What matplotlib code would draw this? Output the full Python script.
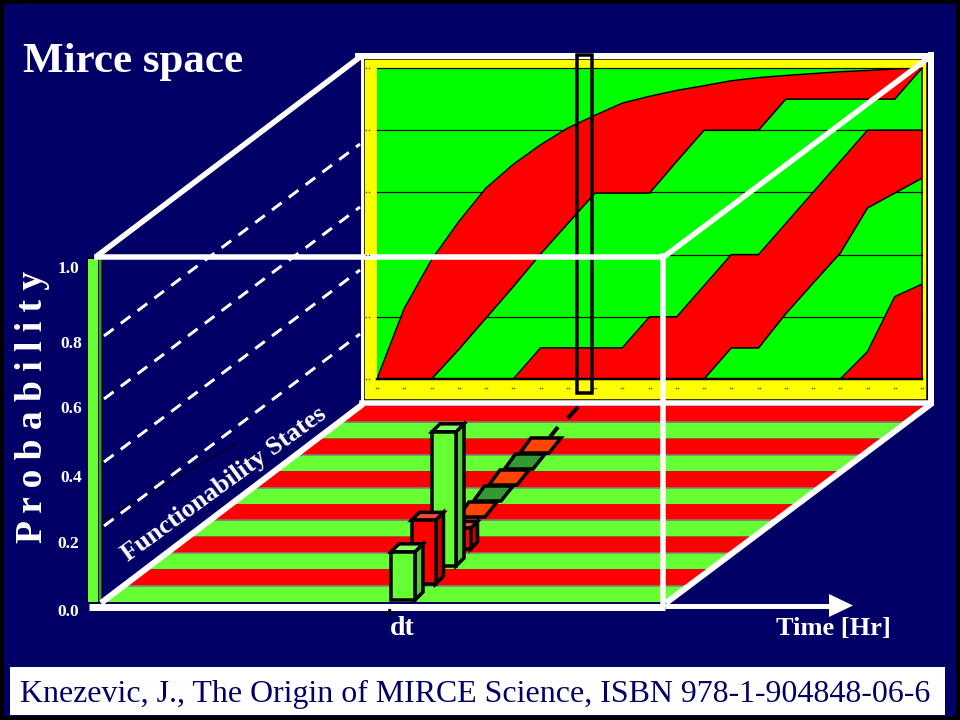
import numpy as np
import matplotlib
matplotlib.use('Agg')
import matplotlib.pyplot as plt
from matplotlib.patches import Polygon, Rectangle

## Data
time_steps = list(range(21))
edge_1 = [0, .227, .383, .506, .614, .69, .753, .807, .848, .887, .909, .928, .943, .959, .969, .976, .982, .988, .992, .997, 1.0]
edge_2 = [0, 0, 0, .095, .196, .297, .402, .5, .598, .598, .598, .7, .8, .8, .8, .9, .9, .9, .9, .9, 1.0]
edge_3 = [0, 0, 0, 0, 0, 0, .1, .1, .1, .1, .2, .2, .3, .4, .4, .5, .6, .7, .8, .8, .8]
edge_4 = [0, 0, 0, 0, 0, 0, 0, 0, 0, 0, 0, 0, 0, .1, .1, .21, .308, .405, .55, .598, .646]
edge_5 = [0, 0, 0, 0, 0, 0, 0, 0, 0, 0, 0, 0, 0, 0, 0, 0, 0, 0, .088, .265, .305]
grid_levels = [0.2, 0.4, 0.6, 0.8, 1.0]
prob_labels = ['0.0', '0.2', '0.4', '0.6', '0.8', '1.0']
floor_states = ['red', 'green'] * 6
bar_probs = [0.14, 0.185, 0.39, 0.06]
bar_states = ['green', 'red', 'green', 'red']
slice_states = ['red', 'green', 'red', 'green', 'red']

NAVY = '#000066'
GREEN = '#66ff33'
RED = '#ff0000'
PX = 0.72  # one pixel in points at dpi 100
SERIF = 'Liberation Serif'

fig = plt.figure(figsize=(9.6, 7.2), dpi=100, facecolor='black')
back = fig.add_axes([0, 0, 1, 1], zorder=0)
chart = fig.add_axes([377 / 960, 1 - 379 / 720, 545 / 960, 311 / 720], zorder=1)
top = fig.add_axes([0, 0, 1, 1], zorder=2)
for ax in (back, top):
    ax.set_xlim(0, 960)
    ax.set_ylim(720, 0)
    ax.axis('off')

# everything on the overlay is painted in the order it is added
layer = [1.0]


def next_z():
    layer[0] += 0.001
    return layer[0]


def box(ax, x0, y0, x1, y1, color, edge='none', lw=0):
    ax.add_patch(Rectangle((x0, y0), x1 - x0, y1 - y0, facecolor=color, edgecolor=edge,
                           linewidth=lw * PX, zorder=next_z()))


def poly(ax, pts, color, edge='none', lw=0):
    ax.add_patch(Polygon(pts, closed=True, facecolor=color, edgecolor=edge, linewidth=lw * PX,
                         joinstyle='miter', zorder=next_z()))


def line(ax, xs, ys, color='white', lw=5, cap='projecting'):
    ax.plot(xs, ys, color=color, linewidth=lw * PX, solid_capstyle=cap, zorder=next_z())


## Background
box(back, 4, 4, 956, 716, NAVY)
box(back, 364, 59, 927, 400, '#ffff00', edge='black', lw=1.5)

## The area chart on the back wall
chart.set_xlim(0, 20)
chart.set_ylim(0, 1)
chart.set_facecolor('#00ff00')
chart.set_xticks([])
chart.set_yticks([])
for name in ('left', 'top'):
    chart.spines[name].set_visible(False)
chart.spines['bottom'].set_linewidth(2.5 * PX)
chart.spines['right'].set_linewidth(1.5 * PX)
for lev in grid_levels:
    chart.axhline(lev, color='black', linewidth=1.2 * PX, zorder=1, clip_on=False)
chart.fill_between(time_steps, edge_2, edge_1, color=RED, linewidth=0, zorder=2)
chart.fill_between(time_steps, edge_4, edge_3, color=RED, linewidth=0, zorder=2)
chart.fill_between(time_steps, 0, edge_5, color=RED, linewidth=0, zorder=2)
for edge in (edge_1, edge_2, edge_3, edge_4, edge_5):
    e = np.array(edge)
    t = np.array(time_steps)
    keep = e > 0
    keep[:-1] |= e[1:] > 0
    chart.plot(t[keep], e[keep], color='black', linewidth=1.5 * PX, zorder=3)

# tiny unreadable tick labels of the original chart
for i in range(21):
    x = 377 + 27.25 * i
    top.plot([x - 1, x + 1], [388, 388], ls='none', marker='s', ms=1.0, mew=0, color='#555500')
for lev in [0] + grid_levels:
    y = 379 - 311 * lev
    top.plot([366, 369], [y, y], ls='none', marker='s', ms=1.0, mew=0, color='#555500')

## Floor stripes
stripe_h = 196 / len(floor_states)
slope = 262 / 199
for i, state in enumerate(floor_states):
    y0 = 406 + i * stripe_h
    y1 = y0 + stripe_h
    x0 = 100 + (602 - y0) * slope
    x1 = 100 + (602 - y1) * slope
    color = GREEN if state == 'green' else RED
    poly(top, [(x0, y0), (x0 + 565, y0), (x1 + 565, y1), (x1, y1)], color)
    if state == 'green':
        line(top, [x0, x0 + 565], [y0, y0], color='#808080', lw=1.5, cap='butt')

## Slice footprint on the floor
slice_top = 438
slice_h = 16.0
for i, state in enumerate(slice_states):
    y0 = slice_top + i * slice_h
    y1 = y0 + slice_h - 1
    x0 = 531 - i * 15.5
    x1 = 561 - i * 16
    color = '#ff4500' if state == 'red' else '#339933'
    poly(top, [(x0, y0), (x1, y0), (x1 - 12, y1), (x0 - 11, y1)], color, edge='black', lw=3.5)

line(top, [578, 568], [407, 418], color='black', lw=4, cap='butt')
line(top, [558, 550], [427, 437], color='black', lw=4, cap='butt')

## Bars standing on the floor, drawn back to front
bar_w = [24, 24, 24, 18]
bar_d = [8, 8, 8, 7]
bar_x = [391, 411.5, 432, 452.5]
bar_y = [600, 584, 566, 549]
for i in [3, 2, 1, 0]:
    h = bar_probs[i] * 344
    x0, y1, w, d = bar_x[i], bar_y[i], bar_w[i], bar_d[i]
    y0 = y1 - h
    if bar_states[i] == 'green':
        front, side, lid = GREEN, '#55cc33', '#88ff66'
    else:
        front, side, lid = RED, '#cc0000', '#ff4444'
    poly(top, [(x0 + w, y0), (x0 + w + d, y0 - d), (x0 + w + d, y1 - d), (x0 + w, y1)], side, edge='black', lw=3.5)
    poly(top, [(x0, y0), (x0 + d, y0 - d), (x0 + w + d, y0 - d), (x0 + w, y0)], lid, edge='black', lw=3.5)
    box(top, x0, y0, x0 + w, y1, front, edge='black', lw=3.5)

## Probability scale bar
poly(top, [(98, 258), (102, 256), (102, 600), (98, 602)], '#339933', edge='black', lw=1)
box(top, 87, 258, 98, 602, GREEN, edge='black', lw=1)

## Back wall edges, the selected slice goes over them
line(top, [358, 931], [55.5, 55.5], lw=6)
line(top, [361.5, 361.5], [55, 403], lw=3)
line(top, [931, 931], [55, 403], lw=6)
line(top, [362, 931], [403, 403], lw=5.5)
box(top, 576.5, 54.5, 591.5, 393, 'none', edge='black', lw=3.5)

## Dashed lines from the scale to the back wall
line(top, [103, 237], [520, 443], color='black', lw=1, cap='butt')
for y in [527, 463, 400, 337]:
    top.plot([104, 360], [y - 1, y - 1 - 256 * 0.75], color='white', linewidth=3 * PX,
             linestyle=(0, (12 / 3, 9 / 3)), dash_capstyle='butt', zorder=next_z())

## Front edges of the cube
line(top, [97, 663], [256.5, 256.5], lw=5.5)
line(top, [663, 663], [256, 604], lw=5.5)
line(top, [97, 360], [256, 57], lw=5.5, cap='round')
line(top, [665, 931], [256, 56], lw=5.5, cap='round')
line(top, [101, 363], [603, 404], lw=6, cap='butt')
line(top, [666, 931], [603, 404], lw=6, cap='butt')
line(top, [89, 665], [606.5, 606.5], lw=7, cap='butt')
line(top, [665, 832], [605.5, 605.5], lw=5, cap='butt')
poly(top, [(829, 594), (853, 605.5), (829, 617)], 'white')
line(top, [389.5, 390.5], [609, 616], color='black', lw=3, cap='butt')

## Text
top.text(23, 72, 'Mirce space', family=SERIF, weight='bold', color='white', fontsize=31, va='baseline')
top.text(33, 407, 'P r o b a b i l i t y', family=SERIF, weight='bold', color='white', fontsize=27,
         rotation=90, ha='center', va='center')
tick_y = [616, 548, 482, 413, 348, 273]
tick_x = [57, 57, 60, 60, 60, 58]
for lab, x, y in zip(prob_labels, tick_x, tick_y):
    top.text(x, y, lab, family=SERIF, weight='bold', color='white', fontsize=12.5, va='baseline')
top.text(224, 484, 'Functionability States', family=SERIF, weight='bold', color='white', fontsize=19,
         rotation=36, rotation_mode='anchor', ha='center', va='center')
top.text(390, 635, 'dt', family=SERIF, weight='bold', color='white', fontsize=20, va='baseline')
top.text(776, 635, 'Time [Hr]', family=SERIF, weight='bold', color='white', fontsize=19, va='baseline')
box(top, 10, 667, 945, 715, 'white')
top.text(20, 702, 'Knezevic, J., The Origin of MIRCE Science, ISBN 978-1-904848-06-6', family=SERIF,
         color=NAVY, fontsize=22.95, va='baseline')

fig.savefig('out.png', dpi=100, facecolor='black')
